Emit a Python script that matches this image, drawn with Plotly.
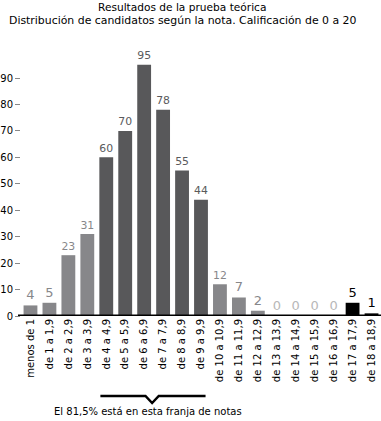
import plotly.graph_objects as go

categories = ["menos de 1", "de 1 a 1,9", "de 2 a 2,9", "de 3 a 3,9", "de 4 a 4,9",
              "de 5 a 5,9", "de 6 a 6,9", "de 7 a 7,9", "de 8 a 8,9", "de 9 a 9,9",
              "de 10 a 10,9", "de 11 a 11,9", "de 12 a 12,9", "de 13 a 13,9",
              "de 14 a 14,9", "de 15 a 15,9", "de 16 a 16,9", "de 17 a 17,9",
              "de 18 a 18,9"]
values = [4, 5, 23, 31, 60, 70, 95, 78, 55, 44, 12, 7, 2, 0, 0, 0, 0, 5, 1]
groups = ["low", "low", "low", "low", "mid", "mid", "mid", "mid", "mid", "mid",
          "low", "low", "low", "zero", "zero", "zero", "zero", "top", "top"]
y_ticks = [0, 10, 20, 30, 40, 50, 60, 70, 80, 90]

bar_col = {"low": "#87878a", "mid": "#58585a", "zero": "#87878a", "top": "#000000"}
txt_col = {"low": "#87878a", "mid": "#5a5a5c", "zero": "#b8b8b8", "top": "#000000"}

FONT = "DejaVu Sans"

fig = go.Figure(go.Bar(
    x=categories, y=values,
    marker=dict(color=[bar_col[g] for g in groups], line=dict(width=0)),
    text=[str(v) for v in values], textposition="outside", cliponaxis=False,
    textfont=dict(family=FONT, size=13, color=[txt_col[g] for g in groups]),
    hoverinfo="skip",
))

W, H = 381, 421
L, R, T, B = 21, 0, 50, 105
ph = H - T - B

fig.update_layout(
    width=W, height=H, margin=dict(l=L, r=R, t=T, b=B, autoexpand=False),
    paper_bgcolor="white", plot_bgcolor="white",
    bargap=0.27, showlegend=False,
    font=dict(family=FONT, size=10, color="black"),
    xaxis=dict(tickangle=-90, showgrid=False, showline=False, ticks="",
               tickfont=dict(family=FONT, size=10, color="black"),
               range=[-0.5, 18.5], automargin=False),
    yaxis=dict(range=[0, ph / 2.644], tickvals=y_ticks, showgrid=False,
               zeroline=False, showline=False, ticks="outside", ticklen=5,
               tickcolor="#888888", tickwidth=1, automargin=False,
               tickfont=dict(family=FONT, size=10, color="black")),
)

# baseline
fig.add_shape(type="line", xref="paper", yref="y", x0=-3 / (W - L), x1=1, y0=0, y1=0,
              line=dict(color="black", width=3))

def py(px):
    return (T + ph - px) / ph

# bracket
x0, x1, xm = 3.69, 9.24, 6.42
ya, yb = py(396), py(403)
fig.add_shape(type="path", xref="x", yref="paper",
              path=f"M {x0} {ya} L {xm - 0.35} {ya} L {xm} {yb} L {xm + 0.35} {ya} L {x1} {ya}",
              line=dict(color="black", width=2.5))

fig.add_annotation(text="El 81,5% está en esta franja de notas", xref="paper", yref="paper",
                   x=(148 - L) / (W - L), y=py(411), showarrow=False,
                   xanchor="center", yanchor="middle",
                   font=dict(family=FONT, size=10, color="black"))

fig.add_annotation(text="Resultados de la prueba teórica", xref="paper", yref="paper",
                   x=(182 - L) / (W - L), y=py(7), showarrow=False,
                   xanchor="center", yanchor="middle",
                   font=dict(family=FONT, size=10.6, color="black"))
fig.add_annotation(text="Distribución de candidatos según la nota. Calificación de 0 a 20",
                   xref="paper", yref="paper",
                   x=(182.5 - L) / (W - L), y=py(20), showarrow=False,
                   xanchor="center", yanchor="middle",
                   font=dict(family=FONT, size=10.9, color="black"))

fig.write_html("out.html", config={"displayModeBar": False},
               post_script="document.body.style.margin='0';document.body.style.overflow='hidden';")
